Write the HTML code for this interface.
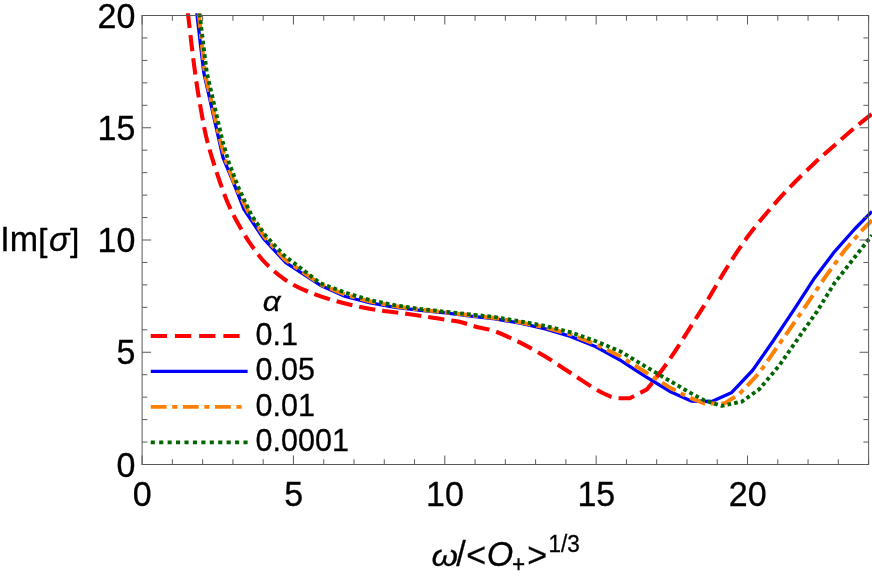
<!DOCTYPE html>
<html><head><meta charset="utf-8"><title>plot</title>
<style>
html,body{margin:0;padding:0;background:#fff;}
body{width:872px;height:574px;overflow:hidden;}
svg{display:block;will-change:transform;}
text{font-family:"Liberation Sans",sans-serif;font-size:34px;fill:#000;stroke:#000;stroke-width:0.3px;}
.i{font-style:italic;}
</style></head><body>
<svg width="872" height="574" viewBox="0 0 872 574">
<rect width="872" height="574" fill="#fff"/>
<defs><clipPath id="c"><rect x="139.79999999999998" y="13.2" width="732.5" height="453.6"/></clipPath></defs>
<g fill="none" stroke-linejoin="round" clip-path="url(#c)">
<path d="M187.8,12.0 L188.2,15.5 C189.3,25.0 192.9,57.0 195.1,72.7 C197.2,88.5 199.0,98.6 201.0,110.0 C203.0,121.4 204.5,130.5 207.3,141.3 C210.1,152.2 214.2,164.9 217.6,175.1 C221.0,185.3 224.1,194.3 227.7,202.7 C231.3,211.1 235.0,218.2 239.0,225.3 C243.0,232.4 247.1,239.1 251.5,245.4 C255.9,251.7 259.7,257.2 265.3,262.9 C270.9,268.6 278.1,275.0 285.2,279.8 C292.2,284.6 299.7,288.1 307.6,291.5 C315.5,294.9 324.3,297.7 332.7,300.2 C341.1,302.7 349.4,304.7 357.8,306.5 C366.2,308.3 374.5,309.6 382.9,310.8 C391.3,312.1 399.6,312.8 408.0,314.0 C416.4,315.2 424.6,316.5 433.0,317.8 C441.4,319.1 451.2,320.2 458.2,321.6 C465.2,323.0 468.9,324.8 475.0,326.4 C481.1,328.0 487.6,328.7 495.1,331.4 C502.6,334.1 511.8,338.5 520.2,342.7 C528.6,346.9 536.9,351.5 545.3,356.5 C553.7,361.5 562.0,367.4 570.4,372.8 C578.8,378.2 588.7,385.1 595.4,389.1 C602.1,393.1 606.8,395.1 610.8,396.6 C614.8,398.1 618.0,397.9 619.5,398.2 L629.9,398.2 L646.9,389.4 C648.0,388.0 650.6,385.0 653.8,380.8 C657.0,376.6 661.7,370.7 666.2,364.3 C670.7,357.9 676.2,349.5 680.9,342.2 C685.6,334.9 690.0,327.9 694.5,320.7 C699.0,313.5 702.7,308.0 708.1,299.2 C713.5,290.4 720.3,278.1 726.8,267.9 C733.2,257.7 740.1,247.0 746.8,237.8 C753.5,228.6 759.8,221.1 766.9,212.7 C774.0,204.3 781.5,195.9 789.5,187.6 C797.5,179.3 807.1,169.9 814.6,162.9 C822.1,155.9 827.9,151.2 834.6,145.3 C841.3,139.4 848.5,132.9 854.7,127.7 C860.9,122.5 869.1,116.2 872.0,113.9" stroke="#ff0000" stroke-width="4.1" stroke-dasharray="16.3 6.96" stroke-dashoffset="0.03"/>
<path d="M196.7,12.0 L197.1,15.5 L203.8,72.7 L223.0,157.6 L235.0,186.4 L243.8,209.0 L263.6,238.6 L285.8,262.7 L320.2,285.2 L345.3,296.5 L370.4,302.8 L395.4,307.3 L420.5,310.3 L445.6,312.8 L470.7,316.2 L495.1,318.9 L520.2,323.2 L545.3,328.9 L570.4,336.4 L595.4,346.5 L620.5,360.3 L645.6,376.6 L671.0,392.0 L691.2,401.0 L711.8,401.5 L731.3,392.8 L752.5,370.5 L771.9,342.7 L794.5,308.8 L814.6,277.9 L834.6,251.6 L854.7,229.0 L872.0,211.4" stroke="#0000ff" stroke-width="3.3"/>
<path d="M198.6,12.0 L199.0,15.5 L204.8,72.7 L220.4,141.3 L225.8,160.6 L235.9,187.2 L248.5,212.3 L264.8,237.3 L284.8,259.4 L320.2,284.2 L345.3,294.7 L370.4,301.5 L395.4,306.3 L420.5,309.7 L445.6,312.3 L470.7,315.2" stroke="#ff8000" stroke-width="4" stroke-dasharray="15.7 5.7 5.0 5.7" stroke-dashoffset="31.58"/>
<path d="M470.7,315.2 L495.1,318.0 L520.2,322.3 L545.3,327.4 L570.4,334.3 L595.4,344.1 L620.5,356.5 L645.6,372.3 L670.7,388.1 L688.0,396.9 L704.2,403.4 L724.2,403.6 L739.3,394.1 L759.4,372.8 L779.4,343.9 L799.5,315.1 L807.0,304.0 L824.6,277.9 L844.7,250.3 L862.2,230.2 L872.0,220.2" stroke="#ff8000" stroke-width="4" stroke-dasharray="15.7 5.7 5.0 5.7" stroke-dashoffset="19.10"/>
<path d="M199.4,12.0 L199.8,15.5 L206.8,72.7 L222.6,141.3 L228.9,162.6 L238.5,187.7 L251.5,215.3 L265.3,235.3 L284.1,255.4 L305.4,271.7 L320.2,283.2 L345.3,292.7 L370.4,300.2 L395.4,305.3 L420.5,309.0 L445.6,311.8 L470.7,314.5 L495.1,317.1 L520.2,321.4 L545.3,325.9 L570.4,332.2 L595.4,341.0 L620.5,351.5 L645.6,366.6 L670.7,381.4 L688.0,391.6 L704.2,400.3 L721.7,405.9 L741.8,401.6 L759.4,389.1 L779.4,365.3 L799.5,336.4 L817.1,311.3 L834.6,282.9 L852.2,260.4 L872.0,235.3" stroke="#006600" stroke-width="3.9" stroke-dasharray="3.7 3.13" stroke-dashoffset="5.25"/>
</g>
<g fill="none" stroke="#5a5a5a" stroke-width="1">
<rect x="142.1" y="15.5" width="726.5" height="449.0"/>
<path d="M142.10,464.5 v-9 M142.10,15.5 v9 M172.37,464.5 v-5.2 M172.37,15.5 v5.2 M202.64,464.5 v-5.2 M202.64,15.5 v5.2 M232.91,464.5 v-5.2 M232.91,15.5 v5.2 M263.18,464.5 v-5.2 M263.18,15.5 v5.2 M293.45,464.5 v-9 M293.45,15.5 v9 M323.73,464.5 v-5.2 M323.73,15.5 v5.2 M354.00,464.5 v-5.2 M354.00,15.5 v5.2 M384.27,464.5 v-5.2 M384.27,15.5 v5.2 M414.54,464.5 v-5.2 M414.54,15.5 v5.2 M444.81,464.5 v-9 M444.81,15.5 v9 M475.08,464.5 v-5.2 M475.08,15.5 v5.2 M505.35,464.5 v-5.2 M505.35,15.5 v5.2 M535.62,464.5 v-5.2 M535.62,15.5 v5.2 M565.89,464.5 v-5.2 M565.89,15.5 v5.2 M596.16,464.5 v-9 M596.16,15.5 v9 M626.43,464.5 v-5.2 M626.43,15.5 v5.2 M656.70,464.5 v-5.2 M656.70,15.5 v5.2 M686.98,464.5 v-5.2 M686.98,15.5 v5.2 M717.25,464.5 v-5.2 M717.25,15.5 v5.2 M747.52,464.5 v-9 M747.52,15.5 v9 M777.79,464.5 v-5.2 M777.79,15.5 v5.2 M808.06,464.5 v-5.2 M808.06,15.5 v5.2 M838.33,464.5 v-5.2 M838.33,15.5 v5.2 M868.60,464.5 v-5.2 M868.60,15.5 v5.2 M142.1,464.50 h9 M868.6,464.50 h-9 M142.1,442.05 h5.2 M868.6,442.05 h-5.2 M142.1,419.60 h5.2 M868.6,419.60 h-5.2 M142.1,397.15 h5.2 M868.6,397.15 h-5.2 M142.1,374.70 h5.2 M868.6,374.70 h-5.2 M142.1,352.25 h9 M868.6,352.25 h-9 M142.1,329.80 h5.2 M868.6,329.80 h-5.2 M142.1,307.35 h5.2 M868.6,307.35 h-5.2 M142.1,284.90 h5.2 M868.6,284.90 h-5.2 M142.1,262.45 h5.2 M868.6,262.45 h-5.2 M142.1,240.00 h9 M868.6,240.00 h-9 M142.1,217.55 h5.2 M868.6,217.55 h-5.2 M142.1,195.10 h5.2 M868.6,195.10 h-5.2 M142.1,172.65 h5.2 M868.6,172.65 h-5.2 M142.1,150.20 h5.2 M868.6,150.20 h-5.2 M142.1,127.75 h9 M868.6,127.75 h-9 M142.1,105.30 h5.2 M868.6,105.30 h-5.2 M142.1,82.85 h5.2 M868.6,82.85 h-5.2 M142.1,60.40 h5.2 M868.6,60.40 h-5.2 M142.1,37.95 h5.2 M868.6,37.95 h-5.2 M142.1,15.50 h9 M868.6,15.50 h-9"/>
</g>
<g><text transform="translate(135.30,476.70) scale(1.0,1.05)" text-anchor="end">0</text><text transform="translate(135.30,364.45) scale(1.0,1.05)" text-anchor="end">5</text><text transform="translate(135.30,252.20) scale(1.0,1.05)" text-anchor="end">10</text><text transform="translate(135.30,139.95) scale(1.0,1.05)" text-anchor="end">15</text><text transform="translate(135.30,27.70) scale(1.0,1.05)" text-anchor="end">20</text></g>
<g><text transform="translate(142.30,505.90) scale(1.0,1.05)" text-anchor="middle">0</text><text transform="translate(293.65,505.90) scale(1.0,1.05)" text-anchor="middle">5</text><text transform="translate(445.01,505.90) scale(1.0,1.05)" text-anchor="middle">10</text><text transform="translate(596.36,505.90) scale(1.0,1.05)" text-anchor="middle">15</text><text transform="translate(747.72,505.90) scale(1.0,1.05)" text-anchor="middle">20</text></g>
<g><text transform="translate(0.30,251.40) scale(1.0,1.05)">Im</text><text transform="translate(38.00,251.40) scale(1.0,0.945)">[</text><text transform="translate(49.00,251.40) scale(1.0,0.97)" class="i">σ</text><text transform="translate(70.00,251.40) scale(1.0,0.945)">]</text></g>
<g><text transform="translate(431.50,565.50) scale(1.0,0.88)" class="i">ω</text><text transform="translate(456.30,565.50) scale(1.0,1.05)">/</text><text transform="translate(466.30,567.20) scale(1.0,1.05)">&lt;</text><text transform="translate(486.80,565.50) scale(1.0,1.05)" class="i">O</text><text transform="translate(512.00,572.00) scale(1.0,1.05)" style="font-size:22.5px">+</text><text transform="translate(527.30,567.20) scale(1.0,1.05)">&gt;</text><text transform="translate(548.50,552.00) scale(1.0,1.05)" style="font-size:22.5px">1/3</text></g>
<g fill="none">
<path d="M150.75,335.9 H240" stroke="#ff0000" stroke-width="4.0" stroke-dasharray="16.2 8.0"/>
<path d="M150.8,371.4 H247.6" stroke="#0000ff" stroke-width="3.3"/>
<path d="M150.8,406.9 H243" stroke="#ff8000" stroke-width="3.9" stroke-dasharray="15.8 5.6 5.2 5.5"/>
<path d="M150.75,442.4 H247.7" stroke="#006600" stroke-width="3.6" stroke-dasharray="4.1 4.33"/>
</g>
<g><text transform="translate(262.80,311.00) scale(1.0,0.86)" style="font-size:31.3px" class="i">α</text><text transform="translate(255.60,344.80) scale(0.975,1.0)" style="font-size:31.3px">0.1</text><text transform="translate(255.60,380.30) scale(0.975,1.0)" style="font-size:31.3px">0.05</text><text transform="translate(255.60,415.80) scale(0.975,1.0)" style="font-size:31.3px">0.01</text><text transform="translate(255.60,451.30) scale(0.975,1.0)" style="font-size:31.3px">0.0001</text></g>
</svg>
</body></html>
